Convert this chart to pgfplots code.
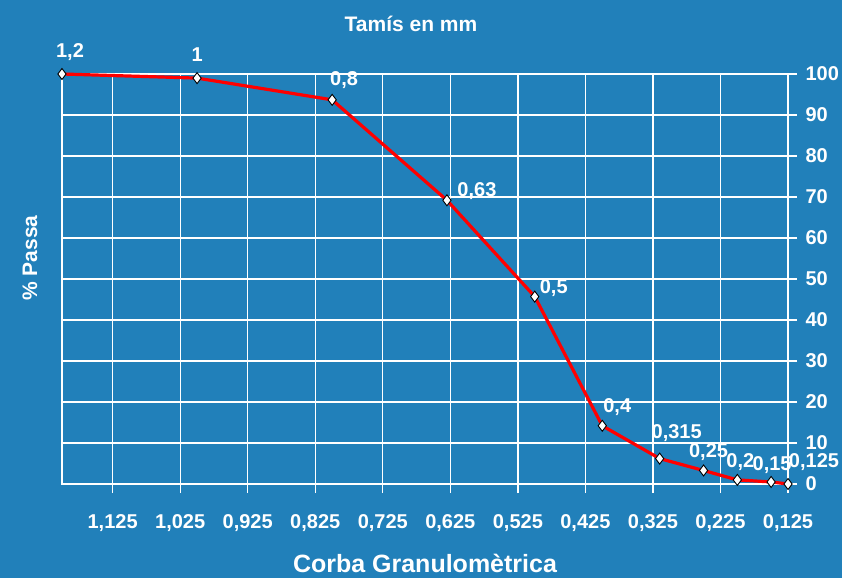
\documentclass[border=0pt]{standalone}
\usepackage{fontspec}
\setmainfont{Liberation Sans}
\usepackage{pgfplots}
\pgfplotsset{compat=1.18}
\definecolor{bg}{RGB}{33,128,186}
\pgfplotstableread{
x y label dx dy
1.2 100 1,2 8 22
1 99 1 0 23
0.8 93.7 0,8 12 20
0.63 69.2 0,63 30 9
0.5 45.7 0,5 19 9
0.4 14.2 0,4 15 19
0.315 6.2 0,315 17 26
0.25 3.3 0,25 5 18
0.2 1.0 0,2 3 18
0.15 0.5 0,15 1 17
0.125 0 0,125 26 22
}\datatable
\begin{document}
\begin{tikzpicture}
\fill[bg] (-62pt,-94pt) rectangle (780pt,484pt);
\begin{axis}[
  at={(0pt,0pt)}, anchor=south west,
  scale only axis, width=726pt, height=410pt,
  xmin=0.125, xmax=1.2, ymin=0, ymax=100,
  x dir=reverse,
  xtick={0.125,0.225,0.325,0.425,0.525,0.625,0.725,0.825,0.925,1.025,1.125},
  ytick={0,10,20,30,40,50,60,70,80,90,100},
  grid=major, major grid style={white, line width=1.3pt},
  axis line style={white, line width=1.3pt},
  tick style={white, line width=1.3pt},
  major tick length=9pt,
  tick align=outside,
  xtick pos=left, ytick pos=right,
  yticklabel pos=right,
  /pgf/number format/assume math mode=true,
  ticklabel style={font=\bfseries\fontsize{20}{24}\selectfont, text=white},
  xticklabel style={yshift=-18pt, /pgf/number format/.cd, fixed, fixed zerofill, precision=3, use comma},
  yticklabel style={xshift=5pt},
  title={Tamís en mm},
  title style={at={(rel axis cs:0.4807,1.107)}, anchor=center, font=\bfseries\fontsize{21}{25}\selectfont, text=white},
  xlabel={Corba Granulomètrica},
  xlabel style={at={(rel axis cs:0.5,-0.193)}, anchor=center, font=\bfseries\fontsize{25}{30}\selectfont, text=white},
  ylabel={\% Passa},
  ylabel style={at={(rel axis cs:-0.044,0.551)}, anchor=center, font=\bfseries\fontsize{21}{25}\selectfont, text=white},
  clip=false,
]
\addplot[red, line width=3.2pt, mark=diamond*, mark size=5.5pt,
  mark options={fill=white, draw=black, line width=0.9pt, solid},
  nodes near coords, point meta=explicit symbolic,
  visualization depends on={\thisrow{dx} \as \dx},
  visualization depends on={\thisrow{dy} \as \dy},
  every node near coord/.append style={anchor=center, xshift=\dx pt, yshift=\dy pt, text=white, font=\bfseries\fontsize{20}{24}\selectfont, inner sep=0pt},
] table[x=x, y=y, meta=label] {\datatable};
\end{axis}
\pgfresetboundingbox
\path (-62pt,-94pt) rectangle (780pt,484pt);
\end{tikzpicture}
\end{document}
